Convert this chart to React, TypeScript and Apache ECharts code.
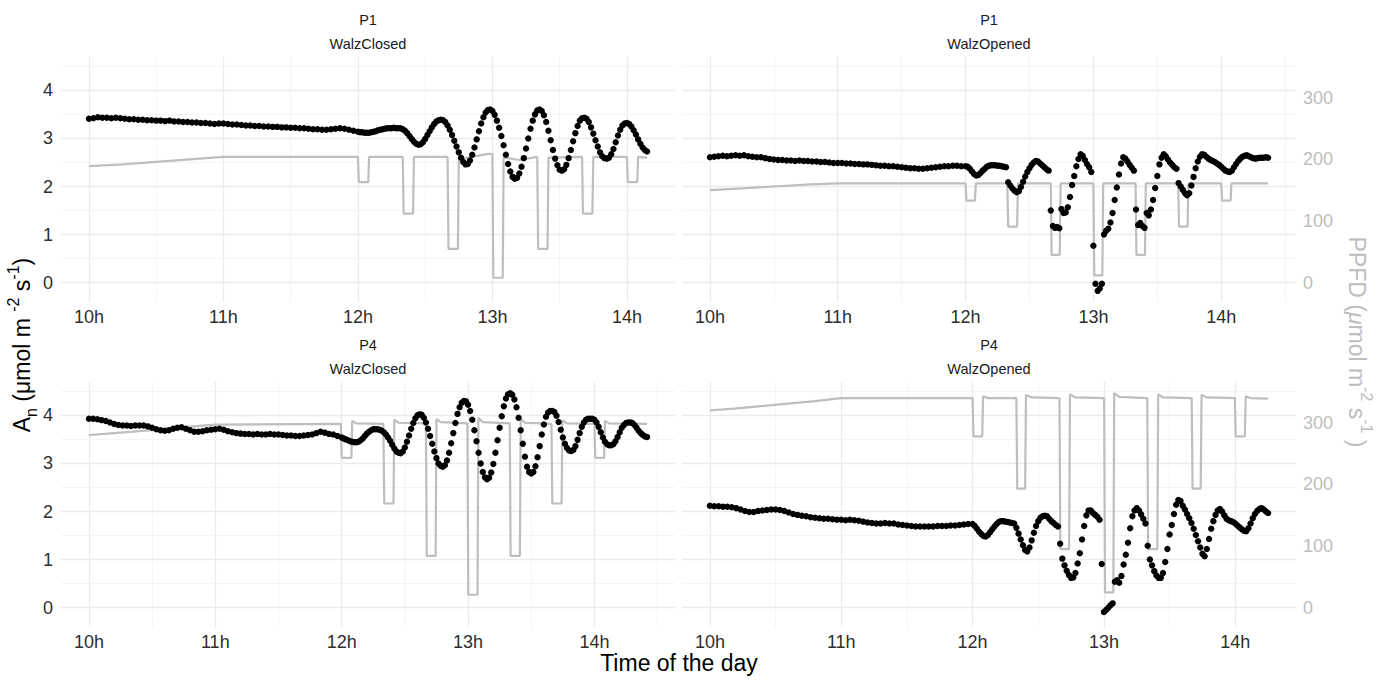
import { useEffect, useRef } from 'react'
import * as echarts from 'echarts'

// A_n readings: every 2 min from 10:00 to 11:58, then every minute from 12:00
const EARLY_STEP = 2
const LATE_START = 120
const LATE_STEP = 1

const p1ClosedEarly = [
  3.41, 3.42, 3.44, 3.43, 3.43, 3.42, 3.43, 3.42, 3.41, 3.40,
  3.40, 3.39, 3.39, 3.38, 3.38, 3.37, 3.37, 3.36, 3.37, 3.35,
  3.35, 3.34, 3.34, 3.33, 3.33, 3.32, 3.32, 3.31, 3.30, 3.31,
  3.31, 3.30, 3.29, 3.29, 3.28, 3.27, 3.27, 3.26, 3.26, 3.25,
  3.25, 3.24, 3.24, 3.23, 3.23, 3.22, 3.22, 3.21, 3.21, 3.20,
  3.19, 3.19, 3.18, 3.18, 3.19, 3.20, 3.21, 3.20, 3.18, 3.16,
]
const p1ClosedLate = [
  3.14, 3.13, 3.13, 3.12, 3.12, 3.12, 3.13, 3.14, 3.15, 3.17,
  3.18, 3.19, 3.20, 3.21, 3.21, 3.21, 3.22, 3.21, 3.21, 3.21,
  3.19, 3.16, 3.11, 3.05, 2.99, 2.93, 2.89, 2.87, 2.88, 2.92,
  2.99, 3.07, 3.15, 3.23, 3.30, 3.35, 3.38, 3.39, 3.38, 3.34,
  3.27, 3.18, 3.07, 2.95, 2.83, 2.71, 2.60, 2.51, 2.46, 2.47,
  2.54, 2.66, 2.81, 2.98, 3.15, 3.31, 3.44, 3.54, 3.59, 3.60,
  3.57, 3.49, 3.37, 3.22, 3.05, 2.86, 2.66, 2.47, 2.31, 2.20,
  2.16, 2.18, 2.27, 2.41, 2.59, 2.79, 3.00, 3.20, 3.37, 3.50,
  3.58, 3.60, 3.57, 3.48, 3.34, 3.16, 2.96, 2.76, 2.58, 2.44,
  2.35, 2.33, 2.36, 2.45, 2.59, 2.76, 2.94, 3.11, 3.26, 3.37,
  3.42, 3.43, 3.41, 3.34, 3.23, 3.10, 2.96, 2.83, 2.71, 2.63,
  2.59, 2.58, 2.60, 2.67, 2.78, 2.92, 3.06, 3.18, 3.27, 3.31,
  3.32, 3.30, 3.25, 3.17, 3.08, 2.98, 2.89, 2.81, 2.76, 2.73,
]

const p1OpenedEarly = [
  2.61, 2.62, 2.63, 2.64, 2.63, 2.64, 2.65, 2.64, 2.65, 2.63,
  2.62, 2.61, 2.61, 2.59, 2.57, 2.56, 2.55, 2.55, 2.54, 2.54,
  2.53, 2.54, 2.53, 2.53, 2.52, 2.52, 2.51, 2.51, 2.50, 2.49,
  2.49, 2.49, 2.48, 2.48, 2.47, 2.47, 2.46, 2.46, 2.45, 2.44,
  2.43, 2.43, 2.42, 2.42, 2.41, 2.40, 2.39, 2.38, 2.38, 2.37,
  2.37, 2.38, 2.39, 2.40, 2.41, 2.42, 2.42, 2.43, 2.43, 2.42,
]
const p1OpenedLate = [
  2.42, 2.41, 2.37, 2.31, 2.26, 2.23, 2.24, 2.28, 2.33, 2.37,
  2.41, 2.43, 2.44, 2.44, 2.44, 2.43, 2.43, 2.42, 2.41, 2.40,
  2.09, 2.02, 1.96, 1.91, 1.88, 1.90, 1.99, 2.10, 2.21, 2.30,
  2.38, 2.45, 2.50, 2.53, 2.52, 2.48, 2.44, 2.40, 2.36, 2.33,
  1.50, 1.18, 1.14, 1.16, 1.13, 1.53, 1.45, 1.46, 1.57, 1.78,
  2.03, 2.22, 2.42, 2.57, 2.67, 2.64, 2.55, 2.47, 2.40, 2.30,
  0.77, -0.02, -0.17, -0.12, -0.02, 1.00, 1.08, 1.12, 1.25, 1.45,
  1.72, 1.98, 2.25, 2.48, 2.61, 2.58, 2.52, 2.45, 2.39, 2.33,
  1.52, 1.20, 1.24, 1.18, 1.14, 1.45, 1.40, 1.52, 1.72, 1.97,
  2.22, 2.46, 2.60, 2.67, 2.63, 2.56, 2.50, 2.45, 2.40, 2.37,
  2.07, 2.00, 1.93, 1.86, 1.82, 1.86, 2.02, 2.20, 2.38, 2.52,
  2.62, 2.67, 2.66, 2.62, 2.58, 2.55, 2.53, 2.51, 2.48, 2.45,
  2.41, 2.37, 2.33, 2.31, 2.30, 2.33, 2.40, 2.47, 2.53, 2.58,
  2.62, 2.64, 2.65, 2.63, 2.61, 2.59, 2.58, 2.59, 2.60, 2.60,
  2.60, 2.61, 2.60,
]

const p4ClosedEarly = [
  3.93, 3.93, 3.92, 3.90, 3.88, 3.85, 3.82, 3.80, 3.79, 3.79,
  3.78, 3.79, 3.79, 3.79, 3.77, 3.74, 3.71, 3.69, 3.68, 3.69,
  3.72, 3.74, 3.75, 3.72, 3.69, 3.66, 3.66, 3.67, 3.69, 3.70,
  3.71, 3.72, 3.70, 3.67, 3.65, 3.63, 3.62, 3.61, 3.61, 3.60,
  3.61, 3.60, 3.60, 3.61, 3.60, 3.60, 3.59, 3.58, 3.58, 3.57,
  3.57, 3.58, 3.59, 3.60, 3.63, 3.66, 3.64, 3.61, 3.60, 3.57,
]
const p4ClosedLate = [
  3.54, 3.52, 3.50, 3.48, 3.46, 3.45, 3.44, 3.44, 3.45, 3.48,
  3.52, 3.57, 3.62, 3.66, 3.69, 3.71, 3.71, 3.71, 3.70, 3.68,
  3.65, 3.60, 3.54, 3.47, 3.39, 3.31, 3.25, 3.22, 3.21, 3.25,
  3.33, 3.45, 3.58, 3.72, 3.84, 3.94, 4.00, 4.02, 4.01, 3.95,
  3.85, 3.72, 3.57, 3.41, 3.25, 3.11, 3.00, 2.95, 2.93, 2.96,
  3.06, 3.22, 3.42, 3.63, 3.84, 4.03, 4.17, 4.26, 4.30, 4.29,
  4.22, 4.09, 3.91, 3.69, 3.46, 3.22, 3.00, 2.82, 2.71, 2.67,
  2.70, 2.81, 2.99, 3.22, 3.48, 3.74, 3.98, 4.19, 4.35, 4.44,
  4.46, 4.43, 4.33, 4.17, 3.95, 3.69, 3.41, 3.14, 2.93, 2.82,
  2.79, 2.82, 2.94, 3.13, 3.36, 3.60, 3.81, 3.97, 4.06, 4.09,
  4.09, 4.07, 3.99, 3.86, 3.70, 3.54, 3.41, 3.32, 3.27, 3.26,
  3.28, 3.36, 3.49, 3.63, 3.76, 3.85, 3.91, 3.93, 3.93, 3.93,
  3.91, 3.85, 3.76, 3.65, 3.54, 3.45, 3.40, 3.38, 3.38, 3.40,
  3.46, 3.55, 3.65, 3.74, 3.80, 3.84, 3.85, 3.85, 3.84, 3.80,
  3.74, 3.68, 3.63, 3.59, 3.56, 3.55,
]

const p4OpenedEarly = [
  2.12, 2.11, 2.11, 2.10, 2.10, 2.09, 2.07, 2.04, 2.01, 1.99,
  1.99, 2.01, 2.02, 2.03, 2.04, 2.04, 2.03, 2.01, 1.98, 1.95,
  1.93, 1.91, 1.90, 1.88, 1.87, 1.86, 1.85, 1.85, 1.84, 1.83,
  1.83, 1.82, 1.83, 1.82, 1.81, 1.79, 1.77, 1.76, 1.75, 1.75,
  1.76, 1.75, 1.75, 1.73, 1.72, 1.71, 1.70, 1.69, 1.69, 1.69,
  1.69, 1.69, 1.70, 1.70, 1.70, 1.71, 1.71, 1.72, 1.73, 1.74,
]
const p4OpenedLate = [
  1.74, 1.70, 1.64, 1.58, 1.53, 1.49, 1.48, 1.51, 1.57, 1.63,
  1.69, 1.74, 1.78, 1.80, 1.80, 1.79, 1.78, 1.77, 1.76, 1.75,
  1.66, 1.54, 1.42, 1.30, 1.20, 1.17, 1.25, 1.40, 1.56, 1.70,
  1.80, 1.87, 1.90, 1.91, 1.90, 1.85, 1.80, 1.76, 1.72, 1.69,
  1.33, 1.02, 0.88, 0.77, 0.68, 0.62, 0.63, 0.72, 0.92, 1.13,
  1.42, 1.70, 1.92, 2.02, 2.02, 1.97, 1.93, 1.89, 1.83, 0.91,
  -0.09, -0.05, 0.00, 0.05, 0.09, 0.54, 0.57, 0.52, 0.66, 0.90,
  1.10, 1.35, 1.65, 1.90, 2.02, 2.07, 2.02, 1.94, 1.85, 1.75,
  1.29, 1.00, 0.88, 0.76, 0.67, 0.62, 0.62, 0.72, 0.95, 1.22,
  1.52, 1.72, 1.95, 2.14, 2.24, 2.22, 2.12, 2.04, 1.95, 1.86,
  1.76, 1.64, 1.51, 1.38, 1.25, 1.12, 1.07, 1.22, 1.43, 1.64,
  1.80, 1.93, 2.02, 2.05, 2.00, 1.92, 1.85, 1.82, 1.80, 1.78,
  1.75, 1.71, 1.67, 1.63, 1.60, 1.59, 1.65, 1.75, 1.86, 1.95,
  2.01, 2.05, 2.07, 2.04, 2.00, 1.97,
]

// PPFD trace: minutes after 10:00 and µmol m-2 s-1
const p1ClosedPpfdT = [0, 15, 30, 45, 60, 120, 120.4, 124.6, 125, 140, 140.4, 144.6, 145, 160, 160.4, 164.6, 165, 178, 180, 180.4, 184.6, 185, 192, 200, 200.4, 204.6, 205, 220, 220.4, 224.6, 225, 240, 240.4, 244.6, 245, 249]
const p1ClosedPpfd = [189, 192, 196, 200, 204, 204, 163, 163, 204, 204, 112, 112, 204, 204, 55, 55, 200, 209, 209, 8, 8, 203, 199, 204, 55, 55, 203, 204, 112, 112, 204, 204, 163, 163, 204, 203]

const p1OpenedPpfdT = [0, 15, 30, 45, 60, 120, 120.4, 124.4, 124.8, 139.6, 140, 144.2, 144.6, 160, 160.4, 164.2, 164.6, 180, 180.4, 184.2, 184.6, 199.8, 200.2, 204.2, 204.6, 219.8, 220.2, 224.2, 224.6, 240, 240.4, 244.4, 244.8, 262]
const p1OpenedPpfd = [150, 153, 156, 159, 161, 161, 133, 133, 161, 161, 91, 91, 161, 161, 45, 45, 161, 161, 12, 12, 161, 161, 45, 45, 161, 161, 91, 91, 161, 161, 133, 133, 161, 161]

const p4ClosedPpfdT = [0, 15, 30, 45, 60, 119.6, 120, 124.6, 125, 127, 139.8, 140.2, 144.6, 145, 147, 160, 160.4, 164.6, 165, 167, 179.7, 180.1, 184.5, 184.9, 187, 199.8, 200.2, 204.6, 205, 207, 219.6, 220, 224.4, 224.8, 227, 240, 240.4, 244.6, 245, 247, 265]
const p4ClosedPpfd = [280, 284, 288, 293, 297, 298, 243, 243, 303, 299, 298, 169, 169, 305, 300, 299, 84, 84, 306, 301, 299, 21, 21, 308, 301, 299, 84, 84, 306, 300, 298, 169, 169, 304, 299, 298, 243, 243, 303, 299, 298]

const p4OpenedPpfdT = [0, 11, 27, 48, 60, 120, 120.4, 124.4, 124.8, 127, 140, 140.4, 144, 144.4, 147, 159.7, 160.1, 164.1, 164.5, 167, 180.1, 180.5, 184.3, 184.7, 187, 199.8, 200.2, 204.4, 204.8, 207, 220.1, 220.5, 224.2, 224.6, 227, 239.8, 240.2, 244.4, 244.8, 247, 255]
const p4OpenedPpfd = [320, 323, 328, 335, 340, 340, 278, 278, 343, 340, 340, 193, 193, 345, 341, 340, 95, 95, 346, 341, 340, 25, 25, 348, 342, 340, 95, 95, 346, 341, 340, 193, 193, 345, 341, 340, 278, 278, 343, 340, 339]

const plants = ['P1', 'P1', 'P4', 'P4']
const chambers = ['WalzClosed', 'WalzOpened', 'WalzClosed', 'WalzOpened']

// secondary axis: PPFD = K * A_n
const K = 78

const FONT = '"Liberation Sans", Arial, Helvetica, sans-serif'
const PANEL_W = 614
const PANEL_H = 245
const PANEL_POS = [
  [61, 57],
  [682, 57],
  [61, 382],
  [682, 382],
]
const GRID_MAJOR = { color: '#ebebeb', width: 1.3, type: 'solid' }
const GRID_MINOR = { color: '#f1f1f1', width: 0.8, type: 'solid' }

const panels = [
  { early: p1ClosedEarly, late: p1ClosedLate, pt: p1ClosedPpfdT, pv: p1ClosedPpfd },
  { early: p1OpenedEarly, late: p1OpenedLate, pt: p1OpenedPpfdT, pv: p1OpenedPpfd },
  { early: p4ClosedEarly, late: p4ClosedLate, pt: p4ClosedPpfdT, pv: p4ClosedPpfd },
  { early: p4OpenedEarly, late: p4OpenedLate, pt: p4OpenedPpfdT, pv: p4OpenedPpfd },
]

const toHour = (min: number) => 10 + min / 60

function buildOption(): echarts.EChartsCoreOption {
  const pointSets = panels.map((p) => [
    ...p.early.map((v, i) => [toHour(i * EARLY_STEP), v]),
    ...p.late.map((v, i) => [toHour(LATE_START + i * LATE_STEP), v]),
  ])
  const ppfdSets = panels.map((p) => p.pt.map((t, i) => [toHour(t), p.pv[i]]))

  // shared y range (ggplot-style 5% expansion)
  const all = [
    ...pointSets.flat().map((d) => d[1]),
    ...ppfdSets.flat().map((d) => d[1] / K),
  ]
  const lo = Math.min(...all)
  const hi = Math.max(...all)
  const yMin = lo - (hi - lo) * 0.05
  const yMax = hi + (hi - lo) * 0.05

  const grid: any[] = []
  const xAxis: any[] = []
  const yAxis: any[] = []
  const series: any[] = []
  const graphic: any[] = []

  panels.forEach((_, p) => {
    const col = p % 2
    const [left, top] = PANEL_POS[p]
    grid.push({ left, top, width: PANEL_W, height: PANEL_H, containLabel: false, outerBoundsMode: 'none' })

    const xs = [...pointSets[p].map((d) => d[0]), ...ppfdSets[p].map((d) => d[0])]
    const x0 = Math.min(...xs)
    const x1 = Math.max(...xs)
    const xMin = x0 - (x1 - x0) * 0.05
    const xMax = x1 + (x1 - x0) * 0.05

    xAxis.push({
      type: 'value',
      gridIndex: p,
      min: xMin,
      max: xMax,
      axisLine: { show: false },
      axisTick: { show: false },
      splitLine: { show: false },
      axisLabel: {
        showMinLabel: false,
        showMaxLabel: false,
        margin: 6,
        fontSize: 18,
        fontFamily: FONT,
        color: '#2e2e2e',
        formatter: (v: number) => (Number.isInteger(v) ? `${v}h` : ''),
      },
    })
    yAxis.push({
      type: 'value',
      gridIndex: p,
      position: 'left',
      min: yMin,
      max: yMax,
      axisLine: { show: false },
      axisTick: { show: false },
      splitLine: { show: false },
      axisLabel: {
        show: col === 0,
        showMinLabel: false,
        showMaxLabel: false,
        margin: 8,
        fontSize: 18,
        fontFamily: FONT,
        color: '#2e2e2e',
        formatter: (v: number) => (Number.isInteger(v) ? String(v) : ''),
      },
    })
    yAxis.push({
      type: 'value',
      gridIndex: p,
      position: 'right',
      min: yMin * K,
      max: yMax * K,
      axisLine: { show: false },
      axisTick: { show: false },
      splitLine: { show: false },
      axisLabel: {
        show: col === 1,
        showMinLabel: false,
        showMaxLabel: false,
        margin: 7,
        fontSize: 18,
        fontFamily: FONT,
        color: '#bdbdbd',
        formatter: (v: number) => (Math.abs(v % 100) < 1e-9 ? String(Math.round(v)) : ''),
      },
    })

    const gridLines: any[] = []
    for (let h = Math.ceil(xMin * 2) / 2; h <= xMax; h += 0.5) {
      gridLines.push({ xAxis: h, lineStyle: Number.isInteger(h) ? GRID_MAJOR : GRID_MINOR })
    }
    for (let a = Math.ceil(yMin * 2) / 2; a <= yMax; a += 0.5) {
      gridLines.push({ yAxis: a, lineStyle: Number.isInteger(a) ? GRID_MAJOR : GRID_MINOR })
    }

    series.push({
      type: 'line',
      xAxisIndex: p,
      yAxisIndex: 2 * p + 1,
      data: ppfdSets[p],
      showSymbol: false,
      symbol: 'none',
      silent: true,
      z: 2,
      lineStyle: { color: '#bebebe', width: 2.2 },
    })
    series.push({
      type: 'scatter',
      xAxisIndex: p,
      yAxisIndex: 2 * p,
      data: pointSets[p],
      symbol: 'circle',
      symbolSize: 6.4,
      silent: true,
      z: 3,
      itemStyle: { color: '#000000', opacity: 1 },
      markLine: {
        silent: true,
        z: 1,
        symbol: ['none', 'none'],
        label: { show: false },
        emphasis: { disabled: true },
        animation: false,
        data: gridLines,
      },
    })

    const cx = left + PANEL_W / 2
    graphic.push({
      type: 'text',
      x: cx,
      y: top - 37,
      style: { text: plants[p], fontSize: 14.5, fontFamily: FONT, fill: '#1a1a1a', align: 'center', verticalAlign: 'middle' },
    })
    graphic.push({
      type: 'text',
      x: cx,
      y: top - 13,
      style: { text: chambers[p], fontSize: 14.5, fontFamily: FONT, fill: '#1a1a1a', align: 'center', verticalAlign: 'middle' },
    })
  })

  const titleRich = (fill: string, italicMu: boolean) => ({
    m: { fontSize: 23, fontFamily: FONT, fill, lineHeight: 34 },
    mu: { fontSize: 23, fontFamily: FONT, fill, lineHeight: 34, fontStyle: italicMu ? 'italic' : 'normal' },
    sub: { fontSize: 16, fontFamily: FONT, fill, lineHeight: 22, verticalAlign: 'bottom' },
    sup: { fontSize: 16, fontFamily: FONT, fill, lineHeight: 20, verticalAlign: 'top' },
  })

  graphic.push({
    type: 'text',
    x: 22,
    y: 345,
    rotation: Math.PI / 2,
    style: {
      text: '{m|A}{sub|n}{m| (}{mu|μ}{m|mol m }{sup|-2}{m| s}{sup|-1}{m|)}',
      align: 'center',
      verticalAlign: 'middle',
      rich: titleRich('#000000', false),
    },
  })
  graphic.push({
    type: 'text',
    x: 1357,
    y: 342,
    rotation: -Math.PI / 2,
    style: {
      text: '{m|PPFD (}{mu|μ}{m|mol m}{sup|-2}{m| s}{sup|-1}{m| )}',
      align: 'center',
      verticalAlign: 'middle',
      rich: titleRich('#bdbdbd', true),
    },
  })
  graphic.push({
    type: 'text',
    x: 679,
    y: 663,
    style: { text: 'Time of the day', fontSize: 23, fontFamily: FONT, fill: '#000000', align: 'center', verticalAlign: 'middle' },
  })

  return {
    animation: false,
    backgroundColor: '#ffffff',
    textStyle: { fontFamily: FONT },
    grid,
    xAxis,
    yAxis,
    series,
    graphic,
  }
}

export default function App() {
  const ref = useRef<HTMLDivElement | null>(null)
  useEffect(() => {
    if (!ref.current) return
    const chart = echarts.init(ref.current, undefined, { renderer: 'svg' })
    chart.setOption(buildOption())
    return () => {
      chart.dispose()
    }
  }, [])
  return (
    <div
      ref={ref}
      style={{ position: 'fixed', left: 0, top: 0, width: 1379, height: 689, background: '#ffffff' }}
    />
  )
}
